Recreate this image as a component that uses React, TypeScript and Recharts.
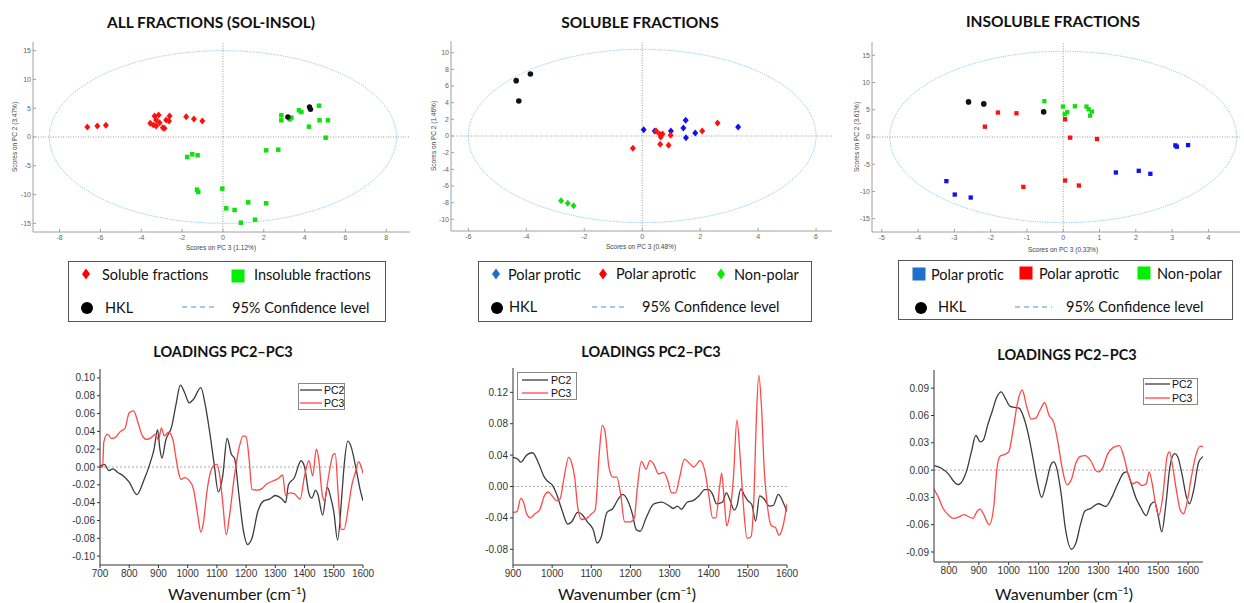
import React from 'react';
import { ScatterChart, Scatter, LineChart, Line, XAxis, YAxis, ReferenceLine } from 'recharts';

type Pt = { x: number; y: number };
const toPts = (a: number[][]): Pt[] => a.map(([x, y]) => ({ x, y }));

// ---------- Scores: ALL FRACTIONS ----------
const allSoluble = toPts([
  [-6.64, 1.74], [-6.15, 1.91], [-5.73, 2.03], [-3.56, 2.37], [-3.4, 2.08], [-3.35, 3.65], [-3.15, 3.82],
  [-3.27, 2.95], [-3.27, 1.91], [-3.1, 2.49], [-2.94, 1.62], [-2.86, 1.5], [-2.78, 2.95], [-2.61, 3.65],
  [-2.64, 2.78], [-1.8, 3.53], [-1.42, 3.13], [-1.01, 2.78],
]);
const allInsoluble = toPts([
  [-1.75, -3.47], [-1.5, -3.0], [-1.24, -3.18], [-1.27, -9.15], [-1.21, -9.55], [-0.03, -8.97], [0.16, -12.39],
  [0.57, -12.68], [0.88, -14.88], [1.24, -11.35], [1.57, -14.36], [2.12, -11.52], [2.12, -2.32], [2.71, -2.2],
  [2.86, 3.76], [2.86, 2.9], [3.27, 3.07], [3.35, 3.36], [3.72, 4.63], [3.84, 4.34], [4.7, 5.44], [4.21, 1.8],
  [4.73, 2.9], [5.14, 2.9], [5.03, -0.12],
]);
const allHKL = toPts([[3.18, 3.47], [4.24, 5.21], [4.29, 4.8]]);

// ---------- Scores: SOLUBLE ----------
const solHKL = toPts([[-4.35, 6.64], [-3.86, 7.44], [-4.26, 4.2]]);
const solNonPolar = toPts([[-2.8, -7.76], [-2.57, -8.08], [-2.37, -8.36]]);
const solProtic = toPts([
  [0.05, 0.76], [0.43, 0.6], [0.99, 0.6], [1.42, 0.96], [1.5, 1.88], [1.51, -0.2], [1.83, 0.36], [3.31, 1.08],
]);
const solAprotic = toPts([
  [-0.32, -1.48], [0.48, 0.6], [0.6, 0.24], [0.7, 0.24], [0.62, -1.0], [0.91, -1.12], [0.98, 0.08],
  [2.07, 0.6], [2.6, 1.56], [0.64, -0.12],
]);

// ---------- Scores: INSOLUBLE ----------
const insHKL = toPts([[-2.61, 6.45], [-2.19, 6.08], [-0.54, 4.61]]);
const insAprotic = toPts([
  [-2.16, 1.9], [-1.8, 4.49], [-1.29, 4.36], [-1.1, -9.16], [0.05, 3.26], [0.19, -0.12], [0.93, -0.37],
  [0.05, -7.99], [0.43, -8.91],
]);
const insNonPolar = toPts([
  [-0.52, 6.58], [-0.01, 5.59], [0.04, 4.18], [0.11, 4.55], [0.32, 5.65], [0.64, 5.59], [0.7, 5.1],
  [0.79, 4.67], [0.74, 3.93],
]);
const insProtic = toPts([
  [-3.22, -8.11], [-2.99, -10.57], [-2.55, -11.12], [1.45, -6.52], [2.08, -6.21], [2.4, -6.76],
  [3.09, -1.54], [3.13, -1.78], [3.44, -1.48],
]);

// ---------- Loadings ----------
const allPC2 = toPts([
  [700, 0.001], [715, 0.003], [730, -0.004], [745, -0.002], [760, -0.006], [780, -0.01], [800, -0.017],
  [826, -0.031], [850, -0.015], [870, 0.003], [885, 0.02], [897, 0.042], [905, 0.02], [912, 0.01],
  [925, 0.03], [945, 0.045], [960, 0.07], [975, 0.092], [990, 0.083], [1005, 0.072], [1020, 0.076],
  [1045, 0.089], [1060, 0.07], [1075, 0.04], [1090, 0.005], [1105, -0.028], [1120, -0.01], [1135, 0.032],
  [1150, 0.014], [1160, 0.01], [1175, -0.03], [1190, -0.07], [1205, -0.087], [1220, -0.08], [1240, -0.05],
  [1260, -0.038], [1280, -0.036], [1300, -0.032], [1320, -0.035], [1335, -0.04], [1345, -0.02],
  [1365, -0.012], [1388, 0.007], [1400, 0.0], [1415, -0.03], [1425, -0.035], [1438, -0.026], [1445, -0.03],
  [1462, -0.054], [1478, -0.023], [1490, -0.035], [1500, -0.05], [1513, -0.082], [1528, -0.03],
  [1535, 0.0], [1548, 0.029], [1560, 0.022], [1575, 0.0], [1590, -0.025], [1600, -0.038],
]);
const allPC3 = toPts([
  [700, 0.0], [709, 0.0], [713, 0.028], [725, 0.037], [740, 0.032], [755, 0.034], [770, 0.04], [785, 0.043],
  [800, 0.061], [815, 0.063], [830, 0.05], [845, 0.035], [860, 0.031], [875, 0.033], [890, 0.037],
  [900, 0.03], [910, 0.044], [920, 0.035], [935, 0.039], [950, 0.03], [960, 0.01], [970, -0.008],
  [978, -0.014], [990, -0.012], [1005, -0.015], [1020, -0.025], [1035, -0.055], [1045, -0.073],
  [1055, -0.06], [1065, -0.03], [1075, -0.01], [1090, 0.002], [1100, 0.003], [1110, -0.01], [1120, -0.04],
  [1132, -0.076], [1145, -0.05], [1160, -0.01], [1175, 0.02], [1190, 0.035], [1200, 0.034], [1210, 0.01],
  [1220, -0.025], [1240, -0.026], [1255, -0.024], [1270, -0.019], [1290, -0.016], [1310, -0.013],
  [1325, -0.009], [1335, -0.032], [1350, -0.029], [1365, -0.03], [1385, -0.036], [1400, -0.01],
  [1415, 0.007], [1428, -0.01], [1440, 0.02], [1448, 0.01], [1460, -0.03], [1468, -0.038], [1480, -0.015],
  [1498, 0.014], [1505, 0.015], [1515, -0.03], [1525, -0.07], [1535, -0.07], [1550, -0.045], [1562, -0.02],
  [1575, -0.005], [1585, 0.006], [1592, 0.002], [1600, -0.007],
]);
const solPC2 = toPts([
  [900, 0.037], [912, 0.035], [920, 0.031], [935, 0.04], [950, 0.043], [965, 0.03], [980, 0.012], [990, 0.006],
  [1000, 0.002], [1010, -0.008], [1025, -0.03], [1040, -0.048], [1050, -0.045], [1065, -0.033],
  [1075, -0.035], [1090, -0.045], [1105, -0.055], [1115, -0.072], [1125, -0.065], [1140, -0.033],
  [1155, -0.028], [1170, -0.015], [1180, -0.01], [1195, -0.02], [1205, -0.035], [1215, -0.055],
  [1225, -0.057], [1240, -0.04], [1260, -0.022], [1280, -0.02], [1300, -0.025], [1310, -0.028],
  [1320, -0.025], [1330, -0.029], [1345, -0.02], [1360, -0.018], [1375, -0.012], [1390, -0.004],
  [1400, -0.004], [1410, -0.01], [1420, -0.022], [1435, -0.02], [1445, -0.008], [1455, -0.018],
  [1465, -0.03], [1472, -0.025], [1482, -0.003], [1492, -0.012], [1500, -0.018], [1510, -0.023],
  [1520, -0.044], [1530, -0.012], [1540, -0.015], [1555, -0.025], [1565, -0.024], [1578, -0.01],
  [1590, -0.02], [1600, -0.032],
]);
const solPC3 = toPts([
  [900, -0.033], [910, -0.032], [920, -0.015], [927, -0.02], [935, -0.035], [945, -0.04], [955, -0.035],
  [968, -0.03], [980, -0.012], [990, -0.007], [1000, -0.012], [1010, -0.018], [1020, -0.016], [1030, 0.01],
  [1042, 0.037], [1050, 0.03], [1058, 0.01], [1065, -0.025], [1075, -0.042], [1090, -0.04], [1100, -0.035],
  [1110, -0.03], [1120, 0.04], [1128, 0.078], [1135, 0.07], [1145, 0.025], [1155, 0.012], [1165, 0.012],
  [1175, -0.01], [1185, -0.045], [1200, -0.045], [1210, -0.04], [1218, 0.0], [1228, 0.032], [1240, 0.022],
  [1250, 0.033], [1260, 0.028], [1272, 0.016], [1285, 0.018], [1295, 0.008], [1305, -0.008], [1315, -0.008],
  [1325, 0.01], [1338, 0.035], [1350, 0.03], [1362, 0.025], [1378, 0.033], [1390, 0.02], [1400, -0.01],
  [1410, -0.04], [1418, -0.04], [1428, 0.0], [1433, 0.017], [1440, -0.02], [1446, -0.05], [1455, -0.03],
  [1463, 0.01], [1472, 0.085], [1480, 0.04], [1488, -0.02], [1498, -0.066], [1508, -0.064], [1515, -0.02],
  [1522, 0.09], [1528, 0.142], [1535, 0.1], [1542, 0.02], [1550, -0.025], [1560, -0.05], [1570, -0.052],
  [1580, -0.062], [1590, -0.05], [1600, -0.022],
]);
const insPC2 = toPts([
  [750, 0.005], [775, 0.002], [800, -0.005], [815, -0.012], [830, -0.016], [845, -0.012], [860, 0.0],
  [875, 0.02], [890, 0.038], [905, 0.031], [915, 0.033], [930, 0.05], [945, 0.065], [960, 0.08], [975, 0.086],
  [990, 0.078], [1005, 0.07], [1020, 0.069], [1035, 0.068], [1050, 0.058], [1065, 0.04], [1080, 0.015],
  [1095, -0.012], [1110, -0.03], [1125, -0.015], [1140, 0.005], [1150, 0.009], [1160, 0.003], [1175, -0.025],
  [1190, -0.065], [1210, -0.087], [1225, -0.08], [1240, -0.06], [1255, -0.045], [1275, -0.042],
  [1300, -0.037], [1325, -0.04], [1345, -0.03], [1365, -0.015], [1385, -0.003], [1395, -0.002],
  [1410, -0.015], [1425, -0.03], [1440, -0.04], [1460, -0.05], [1475, -0.038], [1488, -0.035], [1500, -0.05],
  [1512, -0.068], [1525, -0.04], [1540, 0.005], [1555, 0.018], [1565, 0.015], [1580, -0.005], [1595, -0.03],
  [1605, -0.037], [1620, -0.02], [1635, 0.008], [1650, 0.015],
]);
const insPC3 = toPts([
  [750, -0.021], [765, -0.03], [780, -0.042], [800, -0.05], [815, -0.053], [830, -0.052], [850, -0.049],
  [865, -0.051], [880, -0.053], [895, -0.045], [905, -0.043], [915, -0.048], [935, -0.06], [950, -0.04],
  [960, 0.0], [970, 0.015], [985, 0.017], [1000, 0.02], [1015, 0.045], [1030, 0.075], [1045, 0.088],
  [1060, 0.07], [1075, 0.056], [1090, 0.057], [1105, 0.066], [1120, 0.074], [1135, 0.06], [1150, 0.053],
  [1165, 0.03], [1180, 0.0], [1195, -0.016], [1210, -0.01], [1225, 0.008], [1240, 0.015], [1255, 0.016],
  [1275, 0.01], [1290, 0.0], [1300, -0.002], [1315, 0.003], [1330, 0.017], [1350, 0.025], [1370, 0.027],
  [1385, 0.015], [1400, -0.005], [1415, -0.015], [1430, -0.013], [1445, -0.017], [1460, -0.015],
  [1470, -0.002], [1480, -0.015], [1490, -0.035], [1502, -0.05], [1515, -0.03], [1530, 0.015], [1538, 0.02],
  [1548, 0.005], [1560, -0.02], [1575, -0.045], [1585, -0.048], [1595, -0.038], [1610, -0.01],
  [1625, 0.015], [1640, 0.026], [1650, 0.026],
]);

// ---------- Ticks ----------
const allXTicks = [-8, -6, -4, -2, 0, 2, 4, 6, 8];
const allYTicks = [-15, -10, -5, 0, 5, 10, 15];
const solXTicks = [-6, -4, -2, 0, 2, 4, 6];
const solYTicks = [-10, -8, -6, -4, -2, 0, 2, 4, 6, 8, 10];
const insXTicks = [-5, -4, -3, -2, -1, 0, 1, 2, 3, 4];
const insYTicks = [-15, -10, -5, 0, 5, 10, 15];
const allLoadX = [700, 800, 900, 1000, 1100, 1200, 1300, 1400, 1500, 1600];
const allLoadY = [-0.1, -0.08, -0.06, -0.04, -0.02, 0, 0.02, 0.04, 0.06, 0.08, 0.1];
const solLoadX = [900, 1000, 1100, 1200, 1300, 1400, 1500, 1600];
const solLoadY = [-0.08, -0.04, 0, 0.04, 0.08, 0.12];
const insLoadX = [800, 900, 1000, 1100, 1200, 1300, 1400, 1500, 1600];
const insLoadY = [-0.09, -0.06, -0.03, 0, 0.03, 0.06, 0.09];

// 95% confidence ellipse semi-axes
const ellipsePts = (a: number, b: number): Pt[] =>
  Array.from({ length: 145 }, (_, i) => {
    const t = (i / 144) * Math.PI * 2;
    return { x: a * Math.cos(t), y: b * Math.sin(t) };
  });

const PAD = 4;
type Box = { x0: number; y0: number; x1: number; y1: number };

const RED = '#ff1010';
const GREEN = '#10e010';
const BLUE = '#1010f0';
const BLACK = '#111111';

const diamond = (color: string, w: number, h: number) => (p: any) =>
  p.cx == null ? <g /> : (
    <polygon
      points={`${p.cx},${p.cy - h / 2} ${p.cx + w / 2},${p.cy} ${p.cx},${p.cy + h / 2} ${p.cx - w / 2},${p.cy}`}
      fill={color}
    />
  );
const square = (color: string, s: number) => (p: any) =>
  p.cx == null ? <g /> : <rect x={p.cx - s / 2} y={p.cy - s / 2} width={s} height={s} fill={color} />;
const circle = (color: string, r: number) => (p: any) =>
  p.cx == null ? <g /> : <circle cx={p.cx} cy={p.cy} r={r} fill={color} />;

type Series = { data: Pt[]; shape: (p: any) => React.ReactElement };

function ScorePlot(props: {
  box: Box; xDomain: [number, number]; yDomain: [number, number];
  xTicks: number[]; yTicks: number[]; ea: number; eb: number; series: Series[];
}) {
  const { box, xDomain, yDomain, xTicks, yTicks, ea, eb, series } = props;
  const yW = 22, xH = 14;
  const W = box.x1 - box.x0 + yW + 2 * PAD;
  const H = box.y1 - box.y0 + xH + 2 * PAD;
  const ax = { stroke: '#a0a0a0', tickSize: -3 } as any;
  return (
    <div style={{ position: 'absolute', left: box.x0 - yW - PAD, top: box.y0 - PAD }}>
      <ScatterChart width={W} height={H} margin={{ top: PAD, right: PAD, bottom: PAD, left: PAD }}>
        <XAxis xAxisId="b" type="number" dataKey="x" domain={xDomain} ticks={xTicks} interval={0}
          allowDataOverflow height={xH} tickMargin={6} {...ax} tick={{ fontSize: 7, fill: '#666' }} />
        <XAxis xAxisId="t" type="number" dataKey="x" orientation="top" domain={xDomain} ticks={xTicks}
          interval={0} allowDataOverflow height={0} {...ax} tickFormatter={() => ''} />
        <YAxis yAxisId="l" type="number" dataKey="y" domain={yDomain} ticks={yTicks} interval={0}
          allowDataOverflow width={yW} tickMargin={5} {...ax} tick={{ fontSize: 7, fill: '#666' }} />
        <YAxis yAxisId="r" type="number" dataKey="y" orientation="right" domain={yDomain} ticks={yTicks}
          interval={0} allowDataOverflow width={0} {...ax} tickFormatter={() => ''} />
        <ReferenceLine xAxisId="b" yAxisId="l" x={0} stroke="#9a9a9a" strokeDasharray="1 1.5" />
        <ReferenceLine xAxisId="b" yAxisId="l" y={0} stroke="#9a9a9a" strokeDasharray="1 1.5" />
        <Scatter xAxisId="b" yAxisId="l" data={ellipsePts(ea, eb)} isAnimationActive={false}
          line={{ stroke: '#8fc9ee', strokeWidth: 1, strokeDasharray: '1.2 1.2' }} shape={() => <g />} />
        {series.map((s, i) => (
          <Scatter key={i} xAxisId="b" yAxisId="l" data={s.data} shape={s.shape} isAnimationActive={false} />
        ))}
      </ScatterChart>
    </div>
  );
}

function LoadPlot(props: {
  box: Box; xDomain: [number, number]; yDomain: [number, number];
  xTicks: number[]; yTicks: number[]; pc2: Pt[]; pc3: Pt[];
}) {
  const { box, xDomain, yDomain, xTicks, yTicks, pc2, pc3 } = props;
  const yW = 42, xH = 20, padR = 18;
  const W = box.x1 - box.x0 + yW + PAD + padR;
  const H = box.y1 - box.y0 + xH + 2 * PAD;
  return (
    <div style={{ position: 'absolute', left: box.x0 - yW - PAD, top: box.y0 - PAD }}>
      <LineChart width={W} height={H} margin={{ top: PAD, right: padR, bottom: PAD, left: PAD }}>
        <XAxis xAxisId="b" type="number" dataKey="x" domain={xDomain} ticks={xTicks} interval={0}
          allowDataOverflow height={xH} tickSize={3} tickMargin={2} stroke="#333"
          tick={{ fontSize: 10, fill: '#333' }} />
        <XAxis xAxisId="t" type="number" dataKey="x" orientation="top" domain={xDomain} allowDataOverflow
          height={0} tick={false} stroke="#333" />
        <YAxis yAxisId="l" type="number" domain={yDomain} ticks={yTicks} interval={0} allowDataOverflow
          width={yW} tickSize={3} tickMargin={2} stroke="#333" tick={{ fontSize: 10, fill: '#333' }}
          tickFormatter={(v: number) => v.toFixed(2)} />
        <YAxis yAxisId="r" type="number" orientation="right" domain={yDomain} allowDataOverflow width={0}
          tick={false} stroke="#333" />
        <ReferenceLine xAxisId="b" yAxisId="l" y={0} stroke="#aaaaaa" strokeDasharray="2 2" />
        <Line xAxisId="b" yAxisId="l" data={pc2} dataKey="y" type="monotone" stroke="#3c3c3c"
          strokeWidth={1.3} dot={false} isAnimationActive={false} />
        <Line xAxisId="b" yAxisId="l" data={pc3} dataKey="y" type="monotone" stroke="#ff4848"
          strokeWidth={1.3} dot={false} isAnimationActive={false} />
      </LineChart>
    </div>
  );
}

const T = (p: { x: number; y: number; size: number; bold?: boolean; rot?: boolean; color?: string;
  family?: string; anchor?: 'middle' | 'start'; children: React.ReactNode }) => (
  <div style={{
    position: 'absolute', left: p.x, top: p.y, whiteSpace: 'nowrap', lineHeight: 1,
    fontSize: p.size, fontWeight: p.bold ? 700 : 400, color: p.color || '#111',
    fontFamily: p.family || 'Lato, sans-serif',
    transform: `translate(${p.anchor === 'start' ? '0' : '-50%'}, -50%)${p.rot ? ' rotate(-90deg)' : ''}`,
  }}>{p.children}</div>
);

type LegItem = { kind: 'diamond' | 'square' | 'circle' | 'dash'; color: string; x: number; y: number; x2?: number };
const Marker = ({ it }: { it: LegItem }) => {
  if (it.kind === 'dash') {
    return (
      <svg style={{ position: 'absolute', left: it.x, top: it.y - 2 }} width={(it.x2 || it.x) - it.x} height={4}>
        <line x1={0} y1={2} x2={(it.x2 || it.x) - it.x} y2={2} stroke="#3a9be2" strokeWidth={1.2} strokeDasharray="5 4" />
      </svg>
    );
  }
  const s = 14;
  return (
    <svg style={{ position: 'absolute', left: it.x - s / 2, top: it.y - s / 2 }} width={s} height={s}>
      {it.kind === 'diamond' && <polygon points="7,1.5 11,7 7,12.5 3,7" fill={it.color} />}
      {it.kind === 'square' && <rect x={0.5} y={0.5} width={13} height={13} fill={it.color} />}
      {it.kind === 'circle' && <circle cx={7} cy={7} r={6} fill={it.color} />}
    </svg>
  );
};

const LegendBox = (p: { l: number; t: number; r: number; b: number; items: LegItem[];
  labels: { x: number; y: number; text: string }[] }) => (
  <>
    <div style={{ position: 'absolute', left: p.l, top: p.t, width: p.r - p.l, height: p.b - p.t,
      border: '1.5px solid #555', boxSizing: 'border-box' }} />
    {p.items.map((it, i) => <Marker key={i} it={it} />)}
    {p.labels.map((lb, i) => <T key={i} x={lb.x} y={lb.y} size={14.5} anchor="start">{lb.text}</T>)}
  </>
);

const LoadLegend = (p: { l: number; t: number; w: number; h: number; lx1: number; lx2: number; tx: number; y1: number; y2: number }) => (
  <>
    <div style={{ position: 'absolute', left: p.l, top: p.t, width: p.w, height: p.h, border: '1px solid #888',
      boxSizing: 'border-box', background: '#fff' }} />
    <svg style={{ position: 'absolute', left: p.lx1, top: p.y1 - 2 }} width={p.lx2 - p.lx1} height={p.y2 - p.y1 + 4}>
      <line x1={0} x2={p.lx2 - p.lx1} y1={2} y2={2} stroke="#3c3c3c" strokeWidth={1.3} />
      <line x1={0} x2={p.lx2 - p.lx1} y1={p.y2 - p.y1 + 2} y2={p.y2 - p.y1 + 2} stroke="#ff4848" strokeWidth={1.3} />
    </svg>
    <T x={p.tx} y={p.y1} size={10.5} anchor="start" family="'Liberation Sans', Arial">PC2</T>
    <T x={p.tx} y={p.y2} size={10.5} anchor="start" family="'Liberation Sans', Arial">PC3</T>
  </>
);

const Wn = ({ x, y }: { x: number; y: number }) => (
  <T x={x} y={y} size={16}>Wavenumber (cm<sup style={{ fontSize: '0.6em' }}>−1</sup>)</T>
);

export default function App() {
  const p1: Box = { x0: 33, y0: 42, x1: 410, y1: 232 };
  const p2: Box = { x0: 451, y0: 41, x1: 832, y1: 231 };
  const p3: Box = { x0: 872, y0: 42, x1: 1240, y1: 232 };
  const l1: Box = { x0: 100, y0: 369, x1: 363, y1: 565 };
  const l2: Box = { x0: 513, y0: 368, x1: 787, y1: 565 };
  const l3: Box = { x0: 934, y0: 370, x1: 1203, y1: 562 };
  const small = { size: 6.5, family: "'Liberation Sans', Arial", color: '#444' };
  return (
    <div style={{ position: 'absolute', left: 0, top: 0, width: 1244, height: 603, background: '#fff',
      fontFamily: "'Liberation Sans', Arial, sans-serif", overflow: 'hidden' }}>
      {/* Titles */}
      <T x={211} y={23} size={15.5} bold>ALL FRACTIONS (SOL-INSOL)</T>
      <T x={640} y={23} size={15.5} bold>SOLUBLE FRACTIONS</T>
      <T x={1053} y={22} size={15.5} bold>INSOLUBLE FRACTIONS</T>

      <ScorePlot box={p1} xDomain={[-9.3, 9.16]} yDomain={[-16.5, 16.5]} xTicks={allXTicks} yTicks={allYTicks}
        ea={8.5} eb={15} series={[
          { data: allSoluble, shape: diamond(RED, 6, 7) },
          { data: allInsoluble, shape: square(GREEN, 4.5) },
          { data: allHKL, shape: circle(BLACK, 2.7) },
        ]} />
      <ScorePlot box={p2} xDomain={[-6.6, 6.55]} yDomain={[-11.4, 11.4]} xTicks={solXTicks} yTicks={solYTicks}
        ea={6} eb={10.4} series={[
          { data: solHKL, shape: circle(BLACK, 2.8) },
          { data: solNonPolar, shape: diamond(GREEN, 6, 7) },
          { data: solProtic, shape: diamond(BLUE, 6, 7) },
          { data: solAprotic, shape: diamond(RED, 6, 7) },
        ]} />
      <ScorePlot box={p3} xDomain={[-5.27, 4.87]} yDomain={[-17.45, 17.45]} xTicks={insXTicks} yTicks={insYTicks}
        ea={4.78} eb={15.75} series={[
          { data: insHKL, shape: circle(BLACK, 2.8) },
          { data: insAprotic, shape: square(RED, 4.3) },
          { data: insNonPolar, shape: square(GREEN, 4.3) },
          { data: insProtic, shape: square(BLUE, 4.3) },
        ]} />

      {/* score axis labels */}
      <T x={15} y={137} rot {...small}>Scores on PC 2 (3.47%)</T>
      <T x={221} y={248} {...small}>Scores on PC 3 (1.12%)</T>
      <T x={434} y={136} rot {...small}>Scores on PC 2 (1.46%)</T>
      <T x={641} y={247} {...small}>Scores on PC 3 (0.48%)</T>
      <T x={857} y={137} rot {...small}>Scores on PC 2 (3.61%)</T>
      <T x={1063} y={250} {...small}>Scores on PC 3 (0.33%)</T>

      {/* legends */}
      <LegendBox l={68} t={261} r={386} b={322}
        items={[
          { kind: 'diamond', color: '#ff0000', x: 86, y: 274 },
          { kind: 'square', color: '#00f000', x: 238, y: 276 },
          { kind: 'circle', color: '#000', x: 87, y: 308 },
          { kind: 'dash', color: '', x: 182, x2: 218, y: 307 },
        ]}
        labels={[
          { x: 102, y: 275, text: 'Soluble fractions' },
          { x: 254, y: 275, text: 'Insoluble fractions' },
          { x: 105, y: 308, text: 'HKL' },
          { x: 232, y: 308, text: '95% Confidence level' },
        ]} />
      <LegendBox l={478} t={261} r={812} b={322}
        items={[
          { kind: 'diamond', color: '#1f6fc8', x: 496, y: 274 },
          { kind: 'diamond', color: '#ff0000', x: 603, y: 274 },
          { kind: 'diamond', color: '#00f000', x: 721, y: 274 },
          { kind: 'circle', color: '#000', x: 497, y: 308 },
          { kind: 'dash', color: '', x: 592, x2: 628, y: 307 },
        ]}
        labels={[
          { x: 508, y: 275, text: 'Polar protic' },
          { x: 616, y: 274, text: 'Polar aprotic' },
          { x: 734, y: 275, text: 'Non-polar' },
          { x: 509, y: 307, text: 'HKL' },
          { x: 642, y: 307, text: '95% Confidence level' },
        ]} />
      <LegendBox l={898} t={260} r={1233} b={320}
        items={[
          { kind: 'square', color: '#1f6fcc', x: 919, y: 274 },
          { kind: 'square', color: '#ff0000', x: 1026, y: 273 },
          { kind: 'square', color: '#00f000', x: 1144, y: 273 },
          { kind: 'circle', color: '#000', x: 921, y: 308 },
          { kind: 'dash', color: '', x: 1015, x2: 1052, y: 307 },
        ]}
        labels={[
          { x: 931, y: 275, text: 'Polar protic' },
          { x: 1039, y: 274, text: 'Polar aprotic' },
          { x: 1157, y: 274, text: 'Non-polar' },
          { x: 938, y: 307, text: 'HKL' },
          { x: 1066, y: 307, text: '95% Confidence level' },
        ]} />

      {/* loadings */}
      <T x={223} y={352} size={14.5} bold>LOADINGS PC2–PC3</T>
      <T x={651} y={352} size={14.5} bold>LOADINGS PC2–PC3</T>
      <T x={1067} y={355} size={14.5} bold>LOADINGS PC2–PC3</T>

      <LoadPlot box={l1} xDomain={[700, 1600]} yDomain={[-0.11, 0.11]} xTicks={allLoadX} yTicks={allLoadY}
        pc2={allPC2} pc3={allPC3} />
      <LoadPlot box={l2} xDomain={[900, 1600]} yDomain={[-0.1, 0.151]} xTicks={solLoadX} yTicks={solLoadY}
        pc2={solPC2} pc3={solPC3} />
      <LoadPlot box={l3} xDomain={[750, 1650]} yDomain={[-0.101, 0.11]} xTicks={insLoadX} yTicks={insLoadY}
        pc2={insPC2} pc3={insPC3} />

      <LoadLegend l={298} t={383} w={47} h={27} lx1={300} lx2={322} tx={324} y1={390} y2={403} />
      <LoadLegend l={517} t={372} w={60} h={28} lx1={522} lx2={548} tx={551} y1={380} y2={393} />
      <LoadLegend l={1143} t={378} w={55} h={27} lx1={1145} lx2={1170} tx={1172} y1={384} y2={398} />

      <Wn x={237} y={594} />
      <Wn x={627} y={594} />
      <Wn x={1064} y={594} />
    </div>
  );
}
